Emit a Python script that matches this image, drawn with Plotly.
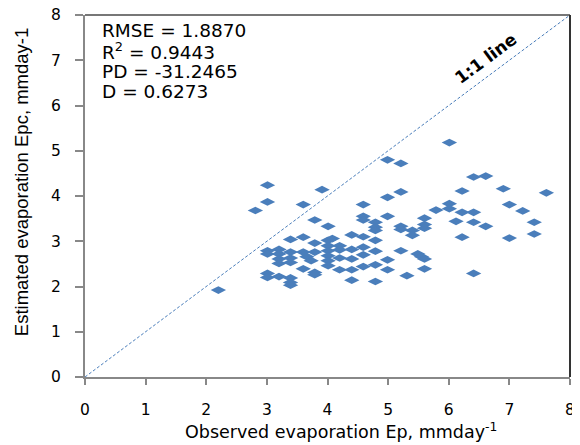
import plotly.graph_objects as go

observed = [2.2, 2.81, 3.01, 3.01, 3.6, 3.91, 3.79, 4.01, 4.59, 4.59, 4.59, 4.79, 4.79, 4.79,
            4.99, 4.99, 4.99, 3.39, 3.6, 3.79, 4.01, 4.08, 4.4, 4.59, 4.79, 3.01, 3.01, 3.2,
            3.2, 3.2, 3.2, 3.39, 3.39, 3.39, 3.6, 3.66, 3.73, 3.79, 4.01, 4.01, 4.01, 4.01,
            4.01, 4.2, 4.2, 4.4, 4.59, 4.79, 4.2, 4.4, 4.59, 4.99, 3.01, 3.01, 3.2, 3.39,
            3.39, 3.39, 3.6, 3.79, 3.79, 4.2, 4.4, 4.59, 4.79, 4.99, 4.4, 4.79,
            6.01, 5.21, 6.41, 6.61, 6.9, 7.61, 6.22, 5.21, 7.0, 7.22, 5.79, 6.01, 6.01, 6.22,
            6.41, 7.41, 7.41, 6.12, 6.41, 6.61, 7.0, 6.22, 5.6, 5.6, 5.6, 5.21, 5.21, 5.4,
            5.4, 5.21, 5.49, 5.55, 5.6, 5.6, 5.31, 6.41]
estimated = [1.92, 3.68, 4.24, 3.87, 3.81, 4.14, 3.47, 3.33, 3.81, 3.55, 3.47, 3.42, 3.31, 3.24,
             4.8, 3.97, 3.55, 3.04, 3.09, 2.96, 3.02, 3.06, 3.14, 3.1, 3.02, 2.79, 2.72, 2.82,
             2.72, 2.61, 2.51, 2.76, 2.63, 2.53, 2.76, 2.66, 2.57, 2.76, 2.9, 2.79, 2.68, 2.57,
             2.46, 2.9, 2.81, 2.82, 2.87, 2.78, 2.63, 2.61, 2.7, 2.59, 2.29, 2.2, 2.22, 2.19,
             2.09, 2.03, 2.39, 2.31, 2.26, 2.37, 2.37, 2.44, 2.48, 2.37, 2.14, 2.11,
             5.18, 4.72, 4.42, 4.44, 4.16, 4.07, 4.11, 4.09, 3.81, 3.67, 3.69, 3.83, 3.72, 3.64,
             3.64, 3.42, 3.16, 3.44, 3.42, 3.33, 3.07, 3.09, 3.51, 3.37, 3.29, 3.33, 3.26, 3.24,
             3.13, 2.79, 2.72, 2.66, 2.61, 2.39, 2.24, 2.29]
line_x = [0, 8]
line_y = [0, 8]
ticks = [0, 1, 2, 3, 4, 5, 6, 7, 8]
stats_lines = ["RMSE = 1.8870", "R<sup>2</sup> = 0.9443", "PD = -31.2465", "D = 0.6273"]

blue = "#4A7EBB"
WIDE = "DejaVu Sans, Verdana, sans-serif"
ARIAL = "Liberation Sans, Arial, sans-serif"

# page body has an 8px margin, so the figure is drawn 8px in from the window edge
PW, PH = 485.5, 361.7  # plot area size in pixels

fig = go.Figure()
fig.add_trace(go.Scatter(x=line_x, y=line_y, mode="lines",
                         line=dict(color=blue, width=1, dash="3px,2px"),
                         hoverinfo="skip", showlegend=False))
fig.add_trace(go.Scatter(x=observed, y=estimated, mode="markers",
                         marker=dict(symbol="diamond-wide", size=11, color=blue,
                                     line=dict(width=0)),
                         showlegend=False))

ann = []
for i, t in enumerate(stats_lines):
    ypx = 30.5 + i * 20.4  # screen pixel from top
    ann.append(dict(text=t, xref="paper", yref="paper", x=(100 - 85) / PW,
                    y=1 - (ypx - 15) / PH, xanchor="left", yanchor="middle",
                    align="left", showarrow=False, font=dict(size=18.5, family=WIDE)))
ann.append(dict(text="<b>1:1 line</b>", x=6.62, y=7.04, xref="x", yref="y",
                showarrow=False, textangle=-36.7, font=dict(size=17, family=WIDE)))
ann.append(dict(text="Observed evaporation Ep, mmday<sup>-1</sup>", xref="paper", yref="paper",
                x=(341 - 85) / PW, y=-(431 - 376.7) / PH, xanchor="center", yanchor="middle",
                showarrow=False, font=dict(size=17.5, family=WIDE)))
ann.append(dict(text="Estimated evaporation Epc, mmday-1", xref="paper", yref="paper",
                x=-(85 - 21) / PW, y=1 - (182 - 15) / PH, xanchor="center", yanchor="middle",
                textangle=-90, showarrow=False, font=dict(size=18.5, family=ARIAL)))

fig.update_layout(
    width=572, height=437,
    margin=dict(l=77, r=572 - 77 - PW, t=7, b=437 - 7 - PH),
    paper_bgcolor="white", plot_bgcolor="white",
    font=dict(family=WIDE, color="black", size=15.5),
    xaxis=dict(range=[0, 8], tickvals=ticks, showgrid=False, zeroline=False,
               showline=True, linecolor="#888888", linewidth=2,
               ticks="outside", ticklen=6, tickcolor="#888888", tickwidth=1.5,
               tickfont=dict(size=15.5), ticklabelstandoff=11, automargin=False,
               ticklabeloverflow="allow"),
    yaxis=dict(range=[0, 8], tickvals=ticks, showgrid=False, zeroline=False,
               showline=True, linecolor="#888888", linewidth=2,
               ticks="outside", ticklen=8, tickcolor="#888888", tickwidth=1.5,
               tickfont=dict(size=15.5), ticklabelstandoff=11, automargin=False,
               ticklabeloverflow="allow"),
    shapes=[
        dict(type="line", xref="paper", yref="paper", x0=0, x1=1, y0=1, y1=1,
             line=dict(color="#777777", width=2)),
        dict(type="line", xref="paper", yref="paper", x0=1, x1=1, y0=0, y1=1,
             line=dict(color="#333333", width=2)),
    ],
    annotations=ann,
)
fig.write_html("out.html")
